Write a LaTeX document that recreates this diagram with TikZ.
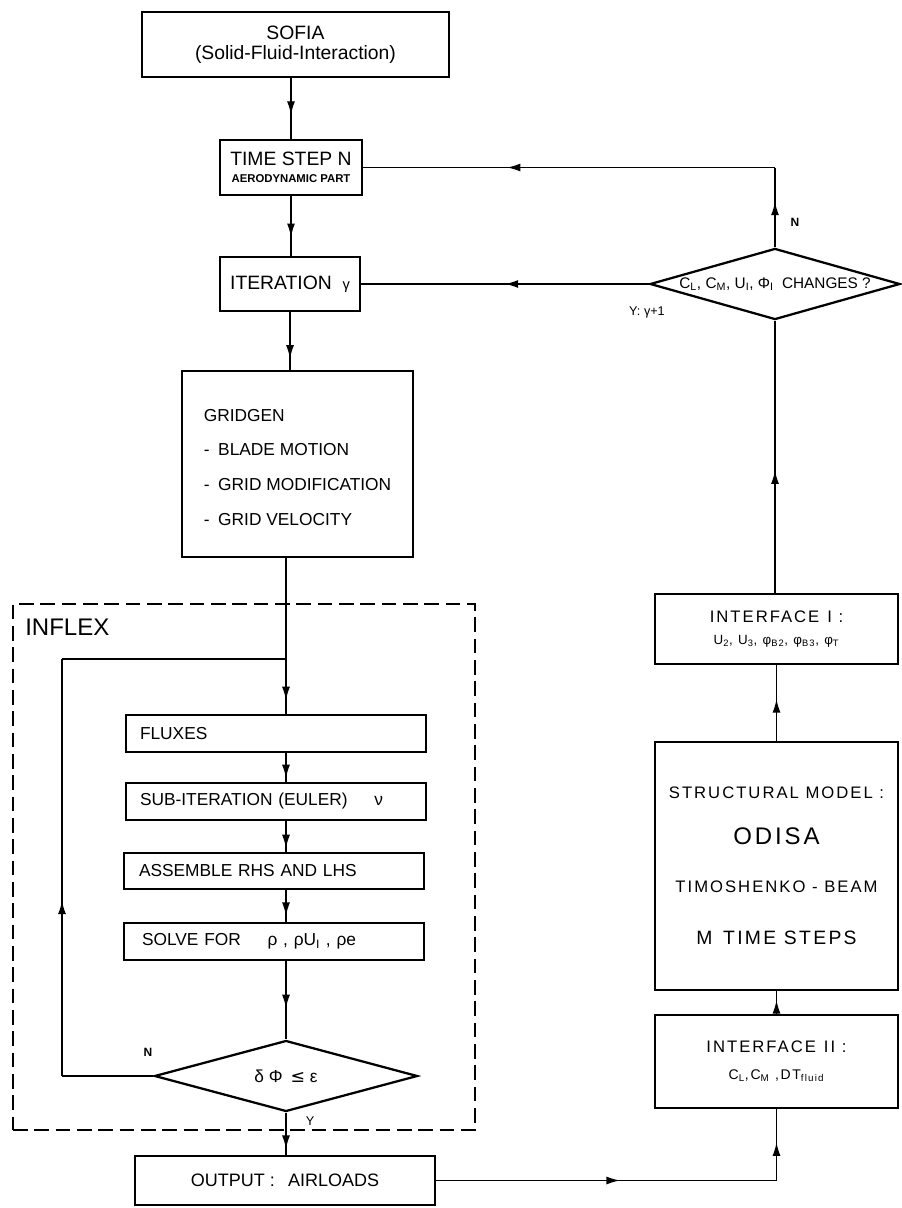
\documentclass[tikz,border=0pt]{standalone}
\usepackage{fontspec}
\setmainfont{Liberation Sans}
\newfontfamily\widefont[LetterSpace=12]{Liberation Sans}
\newfontfamily\symfont{DejaVu Sans}
\usetikzlibrary{arrows.meta,decorations.markings,shapes.geometric}
\tikzset{
  boxsz/.style 2 args={draw, line width=1.3pt, inner sep=0pt, minimum width=#1*0.75pt, minimum height=#2*0.75pt},
  conn/.style={line width=1pt},
  midarrow/.style={conn, postaction={decorate}, decoration={markings, mark=at position #1 with {\arrow{Latex[length=10pt,width=6pt]}}}},
  decision/.style 2 args={diamond, draw, line width=1.7pt, inner sep=0pt, minimum width=#1*0.75pt, minimum height=#2*0.75pt},
  lbl/.style={inner sep=0pt, font=\fontsize{9.5}{10}\selectfont},
  lblb/.style={inner sep=0pt, font=\bfseries\fontsize{9}{10}\selectfont},
}
\begin{document}
\begin{tikzpicture}[x=0.75pt,y=-0.75pt]
\useasboundingbox (0,0) rectangle (901,1208);
\fill[white] (0,0) rectangle (901,1208);

% left column
\node[boxsz={307}{65}, align=center, font=\fontsize{14.5}{15}\selectfont] (sofia) at (295.5,44.5) {SOFIA\\(Solid-Fluid-Interaction)};
\node[boxsz={142}{55}, align=center, font=\fontsize{14.5}{14}\selectfont] (timestep) at (291,167.5) {TIME STEP N\\[-1pt]{\bfseries\fontsize{8.5}{9}\selectfont AERODYNAMIC PART}};
\node[boxsz={140}{54}, font=\fontsize{14.5}{15}\selectfont] (iter) at (290,284) {ITERATION\hspace{8pt}{\fontsize{11}{11}\selectfont γ}};
\node[boxsz={231}{186}, align=left, font=\fontsize{13}{26}\selectfont] (gridgen) at (297.5,464) {\rule{0pt}{14pt}GRIDGEN\\-\enspace BLADE MOTION\\-\enspace GRID MODIFICATION\\-\enspace GRID VELOCITY};

\node[draw, line width=1.3pt, dash pattern=on 11pt off 5pt, inner sep=0pt, minimum width=462*0.75pt, minimum height=526*0.75pt] (inflex) at (244,867) {};
\node[anchor=west, inner sep=0pt, font=\fontsize{18}{18}\selectfont] (inflexlbl) at (25,627) {INFLEX};

\node[boxsz={300}{37}, align=left, text width=204pt, inner xsep=10.5pt, font=\fontsize{13}{14}\selectfont] (fluxes) at (276,733.5) {FLUXES};
\node[boxsz={300}{37}, align=left, text width=204pt, inner xsep=10.5pt, font=\fontsize{13}{14}\selectfont] (subiter) at (276,801.5) {SUB-ITERATION (EULER)\hspace{20pt}ν};
\node[boxsz={300}{36}, align=left, text width=202.5pt, inner xsep=11.25pt, font=\fontsize{13}{14}\selectfont] (assemble) at (274,871) {ASSEMBLE RHS AND LHS};
\node[boxsz={300}{37}, align=left, text width=198pt, inner xsep=13.5pt, font=\fontsize{13}{14}\selectfont] (solve) at (274,941.5) {SOLVE FOR\hspace{20pt}ρ , ρU\textsubscript{I} , ρe};
\node[decision={263}{71}, aspect=3.7, font=\fontsize{13}{14}\selectfont] (conv) at (286,1076) {δ Φ\hspace{6pt}{\symfont ≤} ε};
\node[boxsz={300}{49}, font=\fontsize{13.5}{14}\selectfont] (output) at (285,1180.5) {OUTPUT :\hspace{10pt}AIRLOADS};

% right column
\node[decision={250}{71}, aspect=3.3, font=\fontsize{11.5}{12}\selectfont] (chg) at (775,284) {C\textsubscript{L}, C\textsubscript{M}, U\textsubscript{I}, Φ\textsubscript{I}\hspace{3pt} CHANGES ?};
\node[boxsz={243}{70}, align=center, font=\widefont\fontsize{12.5}{17}\selectfont] (intf1) at (776.5,629) {INTERFACE\hspace{6pt}I :\\{\fontsize{10}{10}\selectfont U\textsubscript{2}, U\textsubscript{3}, φ\textsubscript{B2}, φ\textsubscript{B3}, φ\textsubscript{T}}};
\node[boxsz={243}{248}, align=center, font=\widefont\fontsize{12.5}{36}\selectfont] (struct) at (776.5,866) {STRUCTURAL MODEL :\\[-1.5pt]{\fontsize{18}{18}\selectfont ODISA}\\TIMOSHENKO - BEAM\\[3pt]{\fontsize{14.5}{15}\selectfont M\hspace{8pt}TIME STEPS}};
\node[boxsz={243}{93}, align=center, font=\widefont\fontsize{12.5}{20}\selectfont] (intf2) at (776.5,1061.5) {INTERFACE\hspace{6pt}II :\\{\fontsize{10.5}{11}\selectfont C\textsubscript{L},C\textsubscript{M} ,DT\textsubscript{fluid}}};

% connectors left
\draw[midarrow=0.6] (timestep.north |- sofia.south) -- (timestep.north);
\draw[midarrow=0.68] (timestep.south) -- (timestep.south |- iter.north);
\draw[midarrow=0.8] (iter.south) -- (iter.south |- gridgen.north);
\coordinate (j) at (286,659);
\draw[midarrow=0.91] (gridgen.south -| j) -- (j |- fluxes.north);
\draw[midarrow=0.86] (j |- fluxes.south) -- (j |- subiter.north);
\draw[midarrow=0.87] (j |- subiter.south) -- (j |- assemble.north);
\draw[midarrow=0.8] (j |- assemble.south) -- (j |- solve.north);
\draw[midarrow=0.6] (j |- solve.south) -- (conv.north);
\draw[midarrow=0.85] (conv.south) -- (conv.south |- output.north);
\coordinate (lb) at (62,1076);
\coordinate (lt) at (62,659);
\draw[conn] (conv.west) -- (lb);
\draw[midarrow=0.42] (lb) -- (lt);
\draw[conn] (lt) -- (j);

% connectors right
\coordinate (tr) at (chg.north |- timestep.east);
\draw[midarrow=0.57] (chg.north) -- (tr);
\draw[midarrow=0.65] (tr) -- (timestep.east);
\draw[midarrow=0.5] (chg.west) -- (iter.east);
\draw[midarrow=0.45] (chg.south |- intf1.north) -- (chg.south);
\draw[midarrow=0.55] (struct.north) -- (intf1.south);
\draw[midarrow=0.6] (intf2.north) -- (struct.south);
\coordinate (br) at (intf2.south |- output.east);
\draw[midarrow=0.54] (output.east) -- (br);
\draw[midarrow=0.53] (br) -- (intf2.south);

% labels
\node[lblb] (nchg) at (795,222) {N};
\node[lbl] (ychg) at (647,312) {Y: γ+1};
\node[lblb] (nconv) at (148,1052) {N};
\node[lbl] (yconv) at (310,1121) {Y};
\end{tikzpicture}
\end{document}
